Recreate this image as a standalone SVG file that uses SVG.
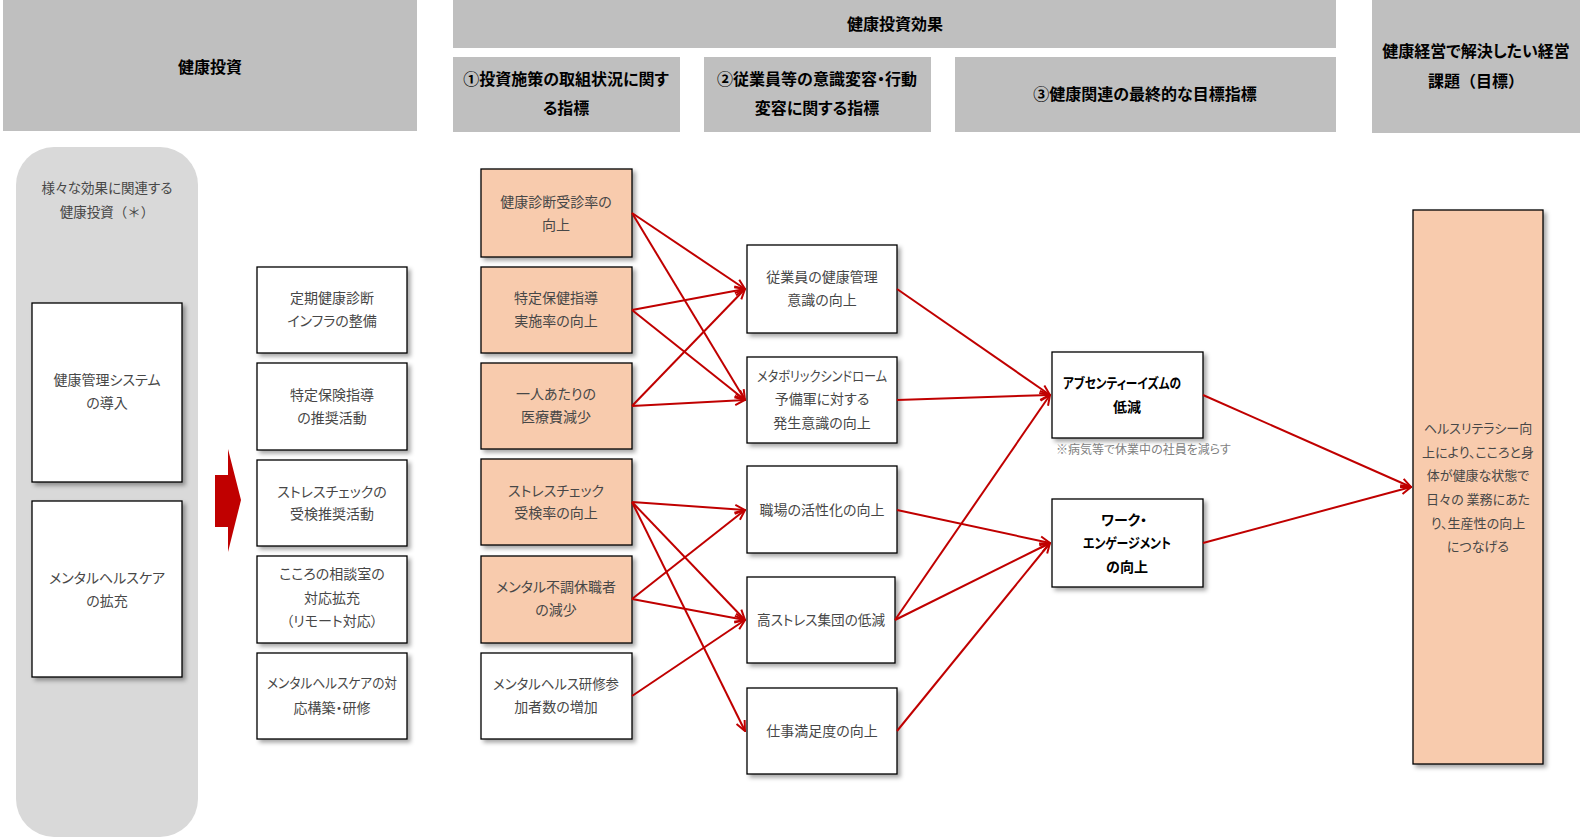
<svg xmlns="http://www.w3.org/2000/svg" width="1585" height="840" viewBox="0 0 1585 840">
<defs>
<style>
text{font-family:"Noto Sans CJK JP","Noto Sans CJK SC",sans-serif;font-feature-settings:"palt" 1;}
.np{font-feature-settings:normal;}
.hdr{fill:#bfbfbf;}
.ht{font-size:16px;font-weight:bold;fill:#000;text-anchor:middle;}
.box{fill:#fff;stroke:#000;stroke-width:1.3;filter:url(#sh);}
.org{fill:#f8cbad;stroke:#000;stroke-width:1.3;filter:url(#sh);}
.t{font-size:14px;fill:#474747;text-anchor:middle;}
.tb{font-size:14px;font-weight:bold;fill:#000;text-anchor:middle;}
.cn line{stroke:#c00000;stroke-width:2;fill:none;marker-end:url(#ah);}
</style>
<filter id="sh" x="-10%" y="-10%" width="130%" height="130%">
<feDropShadow dx="3" dy="3" stdDeviation="2" flood-color="#000" flood-opacity="0.35"/>
</filter>
<marker id="ah" markerUnits="userSpaceOnUse" markerWidth="12" markerHeight="12" viewBox="0 0 12 12" refX="11" refY="6" orient="auto">
<path d="M1,1.5 L11,6 L1,10.5" fill="none" stroke="#c00000" stroke-width="2"/>
</marker>
</defs>
<rect width="1585" height="840" fill="#fff"/>

<g id="headers">
<rect class="hdr" x="3" y="0" width="414" height="131"/>
<text class="ht" x="210" y="73">健康投資</text>
<rect class="hdr" x="453" y="0" width="883" height="48"/>
<text class="ht" x="895" y="30">健康投資効果</text>
<rect class="hdr" x="453" y="57" width="227" height="75"/>
<text class="ht" x="566" y="85">①投資施策の取組状況に関す</text>
<text class="ht" x="566" y="114">る指標</text>
<rect class="hdr" x="704" y="57" width="227" height="75"/>
<text class="ht" x="817" y="85">②従業員等の意識変容・行動</text>
<text class="ht" x="817" y="114">変容に関する指標</text>
<rect class="hdr" x="955" y="57" width="381" height="75"/>
<text class="ht" x="1145" y="100">③健康関連の最終的な目標指標</text>
<rect class="hdr" x="1372" y="0" width="208" height="133"/>
<text class="ht" x="1476" y="57">健康経営で解決したい経営</text>
<text class="ht np" x="1476" y="87">課題（目標）</text>
</g>

<g id="panel">
<rect x="16" y="147" width="182" height="690" rx="38" fill="#d9d9d9"/>
<text class="t" x="107" y="193" style="font-size:13.5px">様々な効果に関連する</text>
<text class="t np" x="107" y="217" style="font-size:13.5px">健康投資（＊）</text>
</g>
<g id="n_system">
<rect class="box" x="32" y="303" width="150" height="179"/>
<text class="t" x="107" y="385">健康管理システム</text>
<text class="t" x="107" y="408">の導入</text>
</g>
<g id="n_mental">
<rect class="box" x="32" y="501" width="150" height="176"/>
<text class="t" x="107" y="583">メンタルヘルスケア</text>
<text class="t" x="107" y="606">の拡充</text>
</g>
<g id="bigarrow">
<polygon points="215,475 228,475 228,449 241,500 228,552 228,527 215,527" fill="#c00000"/>
</g>

<g id="n_c2_1"><rect class="box" x="257" y="267" width="150" height="86"/>
<text class="t" x="332" y="303">定期健康診断</text><text class="t" x="332" y="326">インフラの整備</text></g>
<g id="n_c2_2"><rect class="box" x="257" y="363" width="150" height="87"/>
<text class="t" x="332" y="400">特定保険指導</text><text class="t" x="332" y="423">の推奨活動</text></g>
<g id="n_c2_3"><rect class="box" x="257" y="460" width="150" height="86"/>
<text class="t" x="332" y="497">ストレスチェックの</text><text class="t" x="332" y="519">受検推奨活動</text></g>
<g id="n_c2_4"><rect class="box" x="257" y="556" width="150" height="87"/>
<text class="t" x="332" y="579">こころの相談室の</text><text class="t" x="332" y="603">対応拡充</text><text class="t" x="332" y="626">（リモート対応）</text></g>
<g id="n_c2_5"><rect class="box" x="257" y="653" width="150" height="86"/>
<text class="t" x="332" y="688" textLength="130" lengthAdjust="spacingAndGlyphs">メンタルヘルスケアの対</text><text class="t" x="332" y="713">応構築・研修</text></g>

<g id="n_c3_1"><rect class="org" x="481" y="169" width="151" height="88"/>
<text class="t" x="556" y="207">健康診断受診率の</text><text class="t" x="556" y="230">向上</text></g>
<g id="n_c3_2"><rect class="org" x="481" y="267" width="151" height="86"/>
<text class="t" x="556" y="303">特定保健指導</text><text class="t" x="556" y="326">実施率の向上</text></g>
<g id="n_c3_3"><rect class="org" x="481" y="363" width="151" height="86"/>
<text class="t" x="556" y="399">一人あたりの</text><text class="t" x="556" y="422">医療費減少</text></g>
<g id="n_c3_4"><rect class="org" x="481" y="459" width="151" height="86"/>
<text class="t" x="556" y="496">ストレスチェック</text><text class="t" x="556" y="518">受検率の向上</text></g>
<g id="n_c3_5"><rect class="org" x="481" y="556" width="151" height="87"/>
<text class="t" x="556" y="592">メンタル不調休職者</text><text class="t" x="556" y="615">の減少</text></g>
<g id="n_c3_6"><rect class="box" x="481" y="653" width="151" height="86"/>
<text class="t" x="556" y="689" textLength="126" lengthAdjust="spacingAndGlyphs">メンタルヘルス研修参</text><text class="t" x="556" y="712">加者数の増加</text></g>

<g id="n_c4_1"><rect class="box" x="747" y="245" width="150" height="88"/>
<text class="t" x="822" y="282">従業員の健康管理</text><text class="t" x="822" y="305">意識の向上</text></g>
<g id="n_c4_2"><rect class="box" x="747" y="357" width="150" height="86"/>
<text class="t" x="822" y="381" textLength="130" lengthAdjust="spacingAndGlyphs">メタボリックシンドローム</text><text class="t" x="822" y="404">予備軍に対する</text><text class="t" x="822" y="428">発生意識の向上</text></g>
<g id="n_c4_3"><rect class="box" x="747" y="466" width="150" height="87"/>
<text class="t" x="822" y="515">職場の活性化の向上</text></g>
<g id="n_c4_4"><rect class="box" x="747" y="577" width="148" height="86"/>
<text class="t" x="821" y="625" textLength="128" lengthAdjust="spacingAndGlyphs">高ストレス集団の低減</text></g>
<g id="n_c4_5"><rect class="box" x="747" y="688" width="150" height="86"/>
<text class="t" x="822" y="736">仕事満足度の向上</text></g>

<g id="n_c5_1"><rect class="box" x="1052" y="352" width="151" height="86"/>
<text class="tb" x="1122" y="388" textLength="118" lengthAdjust="spacingAndGlyphs">アブセンティーイズムの</text><text class="tb" x="1127" y="412">低減</text>
<text x="1056" y="454" style="font-size:12px;fill:#7f7f7f">※病気等で休業中の社員を減らす</text></g>
<g id="n_c5_2"><rect class="box" x="1052" y="499" width="151" height="88"/>
<text class="tb" x="1124" y="525">ワーク・</text><text class="tb" x="1127" y="548" textLength="88" lengthAdjust="spacingAndGlyphs">エンゲージメント</text><text class="tb" x="1127" y="572">の向上</text></g>

<g id="n_goal"><rect class="org" x="1413" y="210" width="130" height="554"/>
<text class="t" x="1478" y="433" style="font-size:13px">ヘルスリテラシー向</text>
<text class="t" x="1478" y="457" style="font-size:13px">上により、こころと身</text>
<text class="t" x="1478" y="480" style="font-size:13px">体が健康な状態で</text>
<text class="t" x="1478" y="504" style="font-size:13px">日々の 業務にあた</text>
<text class="t" x="1478" y="528" style="font-size:13px">り、生産性の向上</text>
<text class="t" x="1478" y="551" style="font-size:13px">につなげる</text></g>

<g id="connectors" class="cn">
<line x1="632" y1="213" x2="745" y2="289"/>
<line x1="632" y1="213" x2="745" y2="400"/>
<line x1="632" y1="310" x2="745" y2="289"/>
<line x1="632" y1="310" x2="745" y2="400"/>
<line x1="632" y1="406" x2="745" y2="289"/>
<line x1="632" y1="406" x2="745" y2="400"/>
<line x1="632" y1="502" x2="745" y2="510"/>
<line x1="632" y1="502" x2="745" y2="620"/>
<line x1="632" y1="502" x2="745" y2="731"/>
<line x1="632" y1="599" x2="745" y2="510"/>
<line x1="632" y1="599" x2="745" y2="620"/>
<line x1="632" y1="696" x2="745" y2="620"/>
<line x1="897" y1="289" x2="1050" y2="395"/>
<line x1="897" y1="400" x2="1050" y2="395"/>
<line x1="895" y1="620" x2="1050" y2="395"/>
<line x1="897" y1="510" x2="1050" y2="543"/>
<line x1="895" y1="620" x2="1050" y2="543"/>
<line x1="897" y1="731" x2="1050" y2="543"/>
<line x1="1203" y1="395" x2="1411" y2="487"/>
<line x1="1203" y1="543" x2="1411" y2="487"/>
</g>
</svg>
